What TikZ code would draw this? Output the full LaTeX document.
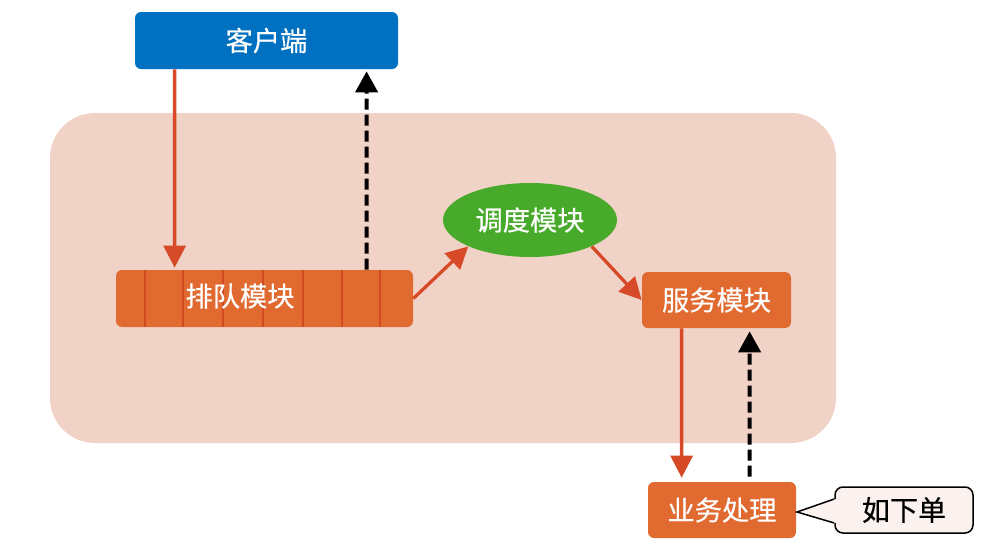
\documentclass[tikz,border=0pt]{standalone}
\usepackage{fontspec}
\newfontfamily\cjk{Noto Sans CJK SC}[FakeBold=0.4]
\usetikzlibrary{arrows.meta,shapes.geometric}
\definecolor{bgpink}{RGB}{241,210,199}
\definecolor{cblue}{RGB}{0,112,192}
\definecolor{corange}{RGB}{224,106,48}
\definecolor{cline}{RGB}{208,74,34}
\definecolor{cgreen}{RGB}{72,170,42}
\definecolor{cred}{RGB}{214,74,40}
\definecolor{callfill}{RGB}{251,242,240}
\tikzset{
  lbl/.style={font=\cjk\fontsize{15.5}{17}\selectfont, text=white},
  box/.style={rectangle, rounded corners=0.12cm, draw=none, inner sep=0pt, lbl},
  redarrow/.style={draw=cred, line width=0.066cm, -{Triangle[length=0.44cm,width=0.44cm]}},
  dasharrow/.style={draw=black, line width=0.08cm, dash pattern=on 0.22cm off 0.1cm, -{Triangle[length=0.42cm,width=0.44cm]}},
  qline/.style={draw=cline, line width=0.045cm},
}
\begin{document}
\begin{tikzpicture}[x=0.02cm,y=-0.02cm]
\useasboundingbox (0,0) rectangle (985,555);
% background panel
\fill[bgpink, rounded corners=0.9cm] (50,113) rectangle (836,443);
% nodes
\node[box, fill=cblue, minimum width=263*0.02cm, minimum height=57*0.02cm] (c) at (266.5,40.5) {客户端};
\node[box, fill=corange, minimum width=297*0.02cm, minimum height=57*0.02cm] (q) at (264.5,298.5) {};
\foreach \xx in {145,183,223,263,303,342,380}
  \draw[qline] (\xx,270) -- (\xx,327);
\node[lbl] (qt) at (240,296) {排队模块};
\node[ellipse, fill=cgreen, inner sep=0pt, minimum width=174*0.02cm, minimum height=74*0.02cm, lbl] (e) at (530,220) {调度模块};
\node[box, fill=corange, minimum width=149*0.02cm, minimum height=56*0.02cm] (s) at (716.5,300) {服务模块};
\node[box, fill=corange, minimum width=148*0.02cm, minimum height=56*0.02cm] (b) at (722,510) {业务处理};
% callout
\node[rectangle, rounded corners=0.16cm, draw=black, line width=0.03cm, fill=callfill, minimum width=138*0.02cm, minimum height=46*0.02cm, inner sep=0pt, font=\cjk\fontsize{16}{18}\selectfont, text=black] (cb) at (904,510) {如下单};
\coordinate (tip) at (797,512);
\fill[callfill] ([yshift=0.22cm]cb.west) -- (tip) -- ([yshift=-0.26cm]cb.west) -- ([xshift=0.05cm,yshift=-0.26cm]cb.west) -- ([xshift=0.05cm,yshift=0.22cm]cb.west) -- cycle;
\draw[black, line width=0.03cm] ([yshift=0.22cm]cb.west) -- (tip) -- ([yshift=-0.26cm]cb.west);
% connectors
\draw[redarrow] ([xshift=0.8cm]c.south west) -- ([xshift=1.18cm,yshift=0.04cm]q.north west);
\draw[dasharrow] ([xshift=5.02cm]q.north west) -- ([xshift=4.64cm,yshift=-0.04cm]c.south west);
\draw[redarrow] (q.east) -- (e.south west);
\draw[redarrow] (e.south east) -- (s.west);
\draw[redarrow] ([xshift=0.8cm]s.south west) -- ([xshift=0.68cm,yshift=0.08cm]b.north west);
\draw[dasharrow] ([xshift=2.04cm,yshift=0.1cm]b.north west) -- ([xshift=2.16cm,yshift=-0.06cm]s.south west);
\end{tikzpicture}
\end{document}
